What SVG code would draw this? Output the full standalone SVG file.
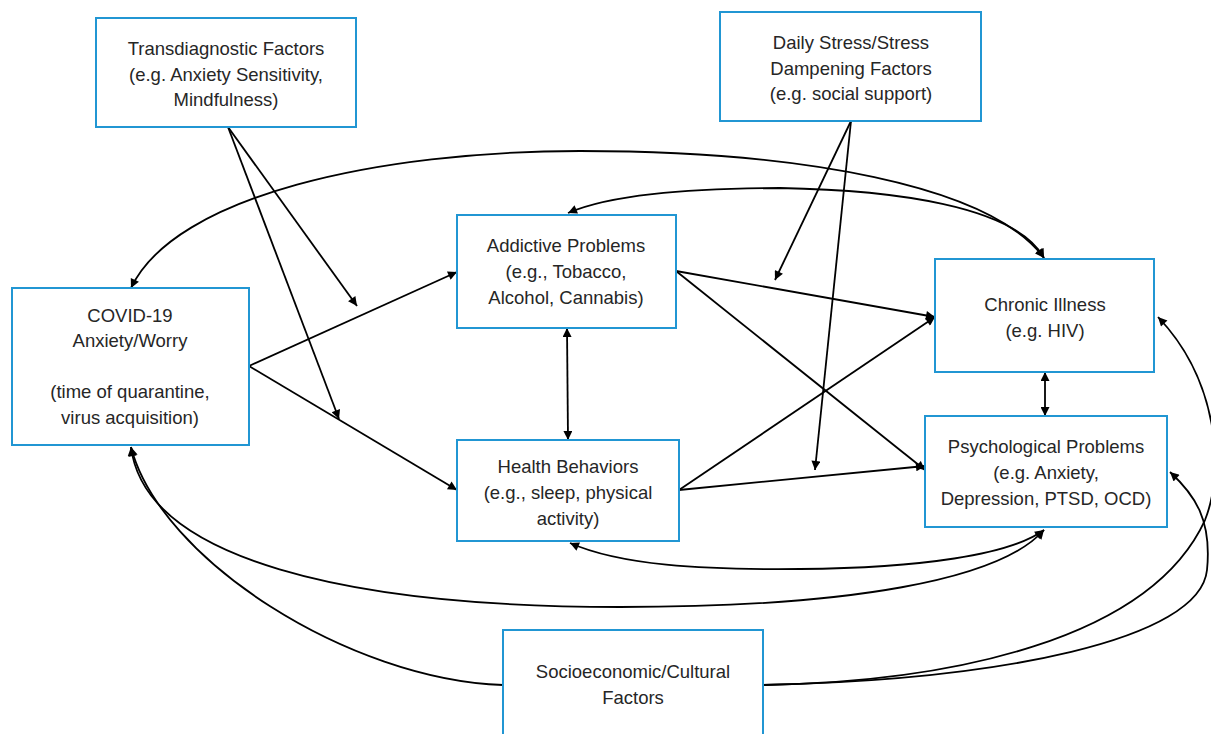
<svg xmlns="http://www.w3.org/2000/svg" width="1211" height="734" viewBox="0 0 1211 734">
<style>
.box{fill:#fff;stroke:#2196d3;stroke-width:2}
.t{font-family:"Liberation Sans",Arial,sans-serif;font-size:18.5px;fill:#262626;text-anchor:middle}
.c{fill:none;stroke:#000;stroke-width:1.8}
</style>
<defs>
<marker id="ah" viewBox="0 0 10 10" refX="10" refY="5" markerWidth="11" markerHeight="9" markerUnits="userSpaceOnUse" orient="auto-start-reverse">
<path d="M0,0 L10,5 L0,10 z" fill="#000"/>
</marker>
</defs>
<rect width="1211" height="734" fill="#fff"/>
<g id="connectors">
<path class="c" d="M228,127 L357,306" marker-end="url(#ah)"/>
<path class="c" d="M228,127 L339,419" marker-end="url(#ah)"/>
<path class="c" d="M851,121 L775,280" marker-end="url(#ah)"/>
<path class="c" d="M851,121 L815,470" marker-end="url(#ah)"/>
<path class="c" d="M249,366 L457,272" marker-end="url(#ah)"/>
<path class="c" d="M249,366 L457,490" marker-end="url(#ah)"/>
<path class="c" d="M676,271 L935,317" marker-end="url(#ah)"/>
<path class="c" d="M676,271 L925,470" marker-end="url(#ah)"/>
<path class="c" d="M679,490 L935,317" marker-end="url(#ah)"/>
<path class="c" d="M679,490 L925,466" marker-end="url(#ah)"/>
<path class="c" d="M567,328 L568,440" marker-start="url(#ah)" marker-end="url(#ah)"/>
<path class="c" d="M1045,372 L1045,416" marker-start="url(#ah)" marker-end="url(#ah)"/>
<path class="c" d="M131,288 C175,195 380,151 580,151 C800,151 990,185 1044,258" marker-start="url(#ah)" marker-end="url(#ah)"/>
<path class="c" d="M568,213 C610,195 680,189 780,188 C890,190 1015,205 1044,258" marker-start="url(#ah)" marker-end="url(#ah)"/>
<path class="c" d="M131,447 C145,560 350,607 620,607 C850,607 1000,580 1044,530" marker-start="url(#ah)" marker-end="url(#ah)"/>
<path class="c" d="M570,543 C620,565 700,570 800,569 C920,568 1010,555 1044,530" marker-start="url(#ah)" marker-end="url(#ah)"/>
<path class="c" d="M503,685 C350,680 160,560 131,447" marker-end="url(#ah)"/>
<path class="c" d="M763,685 C950,682 1150,640 1205,520 C1225,470 1218,380 1158,317" marker-end="url(#ah)"/>
<path class="c" d="M763,685 C1000,680 1200,640 1207,570 C1212,520 1195,495 1170,472" marker-end="url(#ah)"/>
</g>
<g id="transdiagnostic">
<rect class="box" x="96" y="18" width="260" height="109"/>
<text class="t" x="226" y="55">Transdiagnostic Factors</text>
<text class="t" x="226" y="80.5">(e.g. Anxiety Sensitivity,</text>
<text class="t" x="226" y="106">Mindfulness)</text>
</g>
<g id="dailystress">
<rect class="box" x="720" y="12" width="261" height="109"/>
<text class="t" x="851" y="49">Daily Stress/Stress</text>
<text class="t" x="851" y="74.5">Dampening Factors</text>
<text class="t" x="851" y="100">(e.g. social support)</text>
</g>
<g id="covid">
<rect class="box" x="12" y="288" width="237" height="157"/>
<text class="t" x="130" y="322">COVID-19</text>
<text class="t" x="130" y="347">Anxiety/Worry</text>
<text class="t" x="130" y="398">(time of quarantine,</text>
<text class="t" x="130" y="424">virus acquisition)</text>
</g>
<g id="addictive">
<rect class="box" x="457" y="215" width="219" height="113"/>
<text class="t" x="566" y="252">Addictive Problems</text>
<text class="t" x="566" y="278">(e.g., Tobacco,</text>
<text class="t" x="566" y="304">Alcohol, Cannabis)</text>
</g>
<g id="health">
<rect class="box" x="457" y="440" width="222" height="101"/>
<text class="t" x="568" y="473">Health Behaviors</text>
<text class="t" x="568" y="499">(e.g., sleep, physical</text>
<text class="t" x="568" y="525">activity)</text>
</g>
<g id="chronic">
<rect class="box" x="935" y="259" width="219" height="113"/>
<text class="t" x="1045" y="311">Chronic Illness</text>
<text class="t" x="1045" y="337">(e.g. HIV)</text>
</g>
<g id="psych">
<rect class="box" x="925" y="416" width="242" height="111"/>
<text class="t" x="1046" y="453">Psychological Problems</text>
<text class="t" x="1046" y="479">(e.g. Anxiety,</text>
<text class="t" x="1046" y="505">Depression, PTSD, OCD)</text>
</g>
<g id="socio">
<rect class="box" x="503" y="630" width="260" height="120"/>
<text class="t" x="633" y="678">Socioeconomic/Cultural</text>
<text class="t" x="633" y="704">Factors</text>
</g>
</svg>
